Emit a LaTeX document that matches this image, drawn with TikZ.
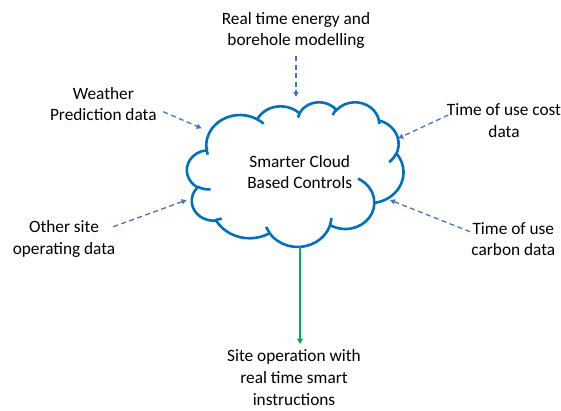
\documentclass[tikz,border=0pt]{standalone}
\usepackage{fontspec}
\setmainfont{Carlito}
\usetikzlibrary{arrows.meta}
\definecolor{cloudblue}{HTML}{0070C0}
\definecolor{feedblue}{HTML}{4472C4}
\definecolor{outgreen}{HTML}{00B050}
\begin{document}
\begin{tikzpicture}[x=1pt, y=-1pt,
  txt/.style={align=center, inner sep=0pt, text=black,
    font=\fontsize{17.3}{21.7}\selectfont},
  feed/.style={draw=feedblue, line width=1.3pt, dash pattern=on 5pt off 3.5pt,
    -{Triangle[length=5pt, width=5pt]}},
  result/.style={draw=outgreen, line width=1.5pt,
    -{Triangle[length=5.5pt, width=6pt]}},
  cloudline/.style={draw=cloudblue, line width=2.6pt},
  % elliptic arc given by its visual start angle and sweep
  declare function={vis(\rw,\rh,\ang)=atan2(\rw*sin(\ang),\rh*cos(\ang));},
  cloudarc/.style n args={4}{start angle={vis(#1,#2,#3)},
    delta angle={mod(vis(#1,#2,#3+#4)-vis(#1,#2,#3)+720,360)},
    x radius=#1, y radius=#2}]

\useasboundingbox (0,0) rectangle (561,410);

% cloud outline in a 432 x 432 unit box
\begin{scope}[shift={(187,101.8)}, x=0.50093pt, y=-0.33472pt]
  \draw[cloudline, fill=white] (39,143.70)
    arc[cloudarc={67.53}{91.90}{-190.487483}{123.780533}]
    arc[cloudarc={53.33}{72.67}{-144.102383}{89.945233}]
    arc[cloudarc={43.65}{59.45}{-145.807917}{99.723017}]
    arc[cloudarc={48.57}{65.95}{-130.986067}{117.241733}]
    arc[cloudarc={53.33}{72.73}{-78.708883}{109.026917}]
    arc[cloudarc={67.75}{92.20}{-46.26725}{130.269}]
    arc[cloudarc={57.85}{78.67}{0.625017}{114.033333}]
    arc[cloudarc={67.52}{92.15}{22.4516}{115.17255}]
    arc[cloudarc={77.20}{105.43}{66.242633}{75.711017}]
    arc[cloudarc={43.60}{59.18}{-274.942083}{146.735567}]
    arc[cloudarc={43.45}{59.45}{-246.8285}{152.51885}]
    -- cycle;
  % inner hooks of the cloud
  \draw[cloudline]
    (46.93,261.77) arc[cloudarc={43.45}{59.45}{86.742}{26.4295}]
    (69.28,348.99) arc[cloudarc={43.60}{59.18}{73.610467}{11.447467}]
    (164.78,390.90) arc[cloudarc={67.52}{92.15}{137.62415}{14.0811}]
    (288.27,347.51) arc[cloudarc={67.52}{92.15}{6.453267}{15.99835}]
    (341.29,229.54) arc[cloudarc={57.85}{78.67}{-70.29235}{70.917367}]
    (417.98,153.54) arc[cloudarc={53.33}{72.73}{30.318033}{27.7515}]
    (383.24,54.26) arc[cloudarc={48.57}{65.95}{-13.744333}{14.8589}]
    (290.78,39.52) arc[cloudarc={48.57}{65.95}{-149.18145}{18.195367}]
    (221.41,47.20) arc[cloudarc={43.65}{59.45}{-163.494267}{17.68635}]
    (140.00,51.92) arc[cloudarc={67.53}{91.90}{-66.70695}{12.31935}]
    (41.27,157.89) arc[cloudarc={67.53}{91.90}{161.345117}{19.502117}];
\end{scope}

% labels
\node[txt] (ctrl) at (299.7,173.8) {Smarter Cloud\strut\\Based Controls\strut};
\node[txt] (model) at (296,30.8) {Real time energy and\strut\\borehole modelling\strut};
\node[txt] (weather) at (103.3,105.8) {Weather\strut\\Prediction data\strut};
\node[txt] (site) at (64,239.2) {Other site\strut\\operating data\strut};
\node[txt] (cost) at (504,122.5) {Time of use cost\strut\\data\strut};
\node[txt] (carbon) at (513.3,240.8) {Time of use\strut\\carbon data\strut};
\node[txt, anchor=north] (out) at (294,346.4)
  {Site operation with\strut\\real time smart\strut\\instructions};

% connector ends
\coordinate (modelS) at (296,56);    \coordinate (modelE) at (296,97);
\coordinate (weatherS) at (163.3,111.7); \coordinate (weatherE) at (201.7,128.3);
\coordinate (siteS) at (113.3,226.7); \coordinate (siteE) at (186.7,200);
\coordinate (costS) at (448.3,115);   \coordinate (costE) at (398.3,138.3);
\coordinate (carbonS) at (470,231.7); \coordinate (carbonE) at (390,200);
\coordinate (outS) at (300,247);      \coordinate (outE) at (300,344);

\draw[feed] (modelS) -- (modelE);
\draw[feed] (weatherS) -- (weatherE);
\draw[feed] (siteS) -- (siteE);
\draw[feed] (costS) -- (costE);
\draw[feed] (carbonS) -- (carbonE);
\draw[result] (outS) -- (outE);
\end{tikzpicture}
\end{document}
